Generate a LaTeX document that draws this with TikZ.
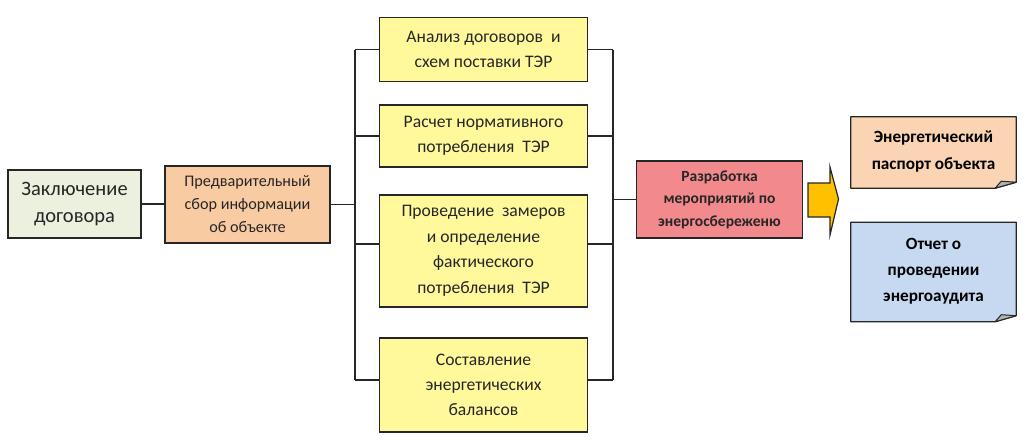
\documentclass[tikz,border=0pt]{standalone}
\usepackage{fontspec}
\setmainfont{Carlito}
\definecolor{contractgreen}{HTML}{EBF1DE}
\definecolor{infopeach}{HTML}{F9CBA3}
\definecolor{stepyellow}{HTML}{FFF99C}
\definecolor{planred}{HTML}{F28A8D}
\definecolor{arroworange}{HTML}{FFC000}
\definecolor{docpeach}{HTML}{FBD4B4}
\definecolor{docblue}{HTML}{C6D9F1}
\definecolor{edgegray}{HTML}{262626}
\tikzset{
  stagebox/.style={draw=edgegray, line width=1.3pt, align=center,
    inner sep=0pt, text=black!85},
  busline/.style={line width=1.1pt, draw=edgegray},
  docfold/.style={fill=#1, draw=edgegray, line width=1.3pt, line join=round},
}
\begin{document}
\begin{tikzpicture}[x=1pt, y=-1pt]
    \useasboundingbox (0,0) rectangle (1024,440);

    % input stages
    \node[stagebox, fill=contractgreen, minimum width=133, minimum height=68,
        font=\fontsize{20.5}{27}\selectfont] (contract) at (74.5,204)
        {Заключение\\договора};
    \node[stagebox, fill=infopeach, minimum width=165, minimum height=77,
        font=\fontsize{16.2}{23}\selectfont] (prelim) at (247.5,204.5)
        {Предварительный\\сбор информации\\об объекте};

    % audit works
    \node[stagebox, fill=stepyellow, minimum width=208, minimum height=64,
        font=\fontsize{17.6}{25.5}\selectfont] (contracts) at (483.5,49.5)
        {Анализ договоров~ и\\схем поставки ТЭР};
    \node[stagebox, fill=stepyellow, minimum width=208, minimum height=62,
        font=\fontsize{17.6}{25.5}\selectfont] (norm) at (483.5,136)
        {Расчет нормативного\\потребления~ ТЭР};
    \node[stagebox, fill=stepyellow, minimum width=208, minimum height=112,
        font=\fontsize{17.6}{25.5}\selectfont] (measure) at (483.5,251)
        {Проведение~ замеров\\и определение\\фактического\\потребления~ ТЭР};
    \node[stagebox, fill=stepyellow, minimum width=208, minimum height=94,
        font=\fontsize{17.6}{25}\selectfont] (balance) at (483.5,385)
        {Составление\\энергетических\\балансов};

    % result
    \node[stagebox, fill=planred, minimum width=166, minimum height=77,
        font=\fontsize{15.5}{22.5}\selectfont\bfseries] (plan) at (719.5,199.5)
        {Разработка\\мероприятий по\\энергосбереженю};

    % bus lines
    \coordinate (lbus top) at (355,49.5);
    \coordinate (lbus bot) at (355,380);
    \coordinate (rbus top) at (613,49.5);
    \coordinate (rbus bot) at (613,380);
    \draw[busline] (contract.east) -- (contract.east -| prelim.west);
    \draw[busline] (prelim.east) -- (prelim.east -| lbus top);
    \draw[busline] (lbus top) -- (lbus bot);
    \draw[busline] (rbus top) -- (rbus bot);
    \foreach \step/\yy in {contracts/49.5, norm/136, measure/244, balance/380} {
        \draw[busline] (355,\yy) -- (\step.west |- 0,\yy);
        \draw[busline] (\step.east |- 0,\yy) -- (613,\yy);
    }
    \draw[busline] (plan.west |- 0,199.5) -- (613,199.5);

    % big arrow
    \fill[arroworange, draw=edgegray, line width=1.2pt, line join=miter]
        (808,183) -- (830,183) -- (830,167) -- (838.5,199) -- (830,235)
        -- (830,217) -- (808,217) -- cycle;

    % documents
    \node[minimum width=165, minimum height=71, inner sep=0pt] (passport)
        at (933.5,152.5) {};
    \node[minimum width=165, minimum height=99, inner sep=0pt] (report)
        at (933.5,272) {};
    \foreach \doc/\col in {passport/docpeach, report/docblue} {
        \draw[docfold=\col] (\doc.north west) -- (\doc.north east)
            -- ([yshift=6]\doc.south east) -- ([xshift=-21]\doc.south east)
            -- (\doc.south west) -- cycle;
        \draw[fill=black!30, draw=edgegray, line width=1pt, line join=round]
            ([xshift=-21]\doc.south east) -- ([xshift=-15, yshift=7]\doc.south east)
            -- ([yshift=6]\doc.south east) -- cycle;
    }
    \node[align=center, font=\fontsize{17.2}{27}\selectfont\bfseries]
        at ([yshift=1]passport) {Энергетический\\паспорт объекта};
    \node[align=center, font=\fontsize{17.2}{26}\selectfont\bfseries]
        at ([yshift=1]report) {Отчет о\\проведении\\энергоаудита};
\end{tikzpicture}
\end{document}
